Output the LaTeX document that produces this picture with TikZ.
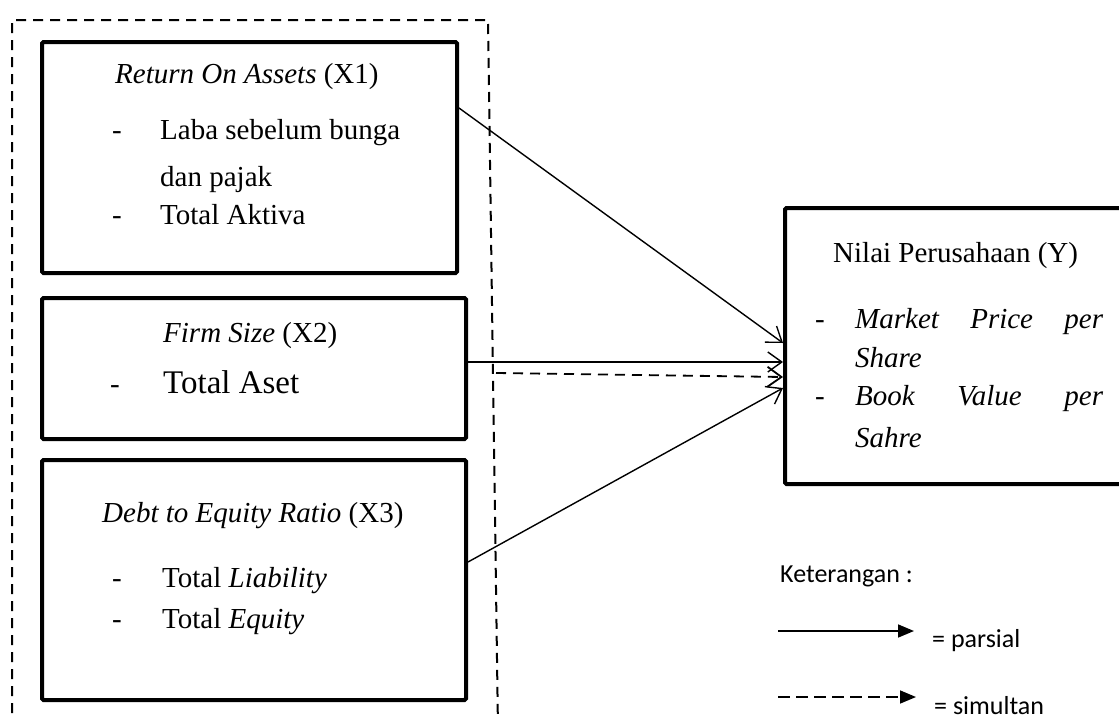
\documentclass[tikz,border=0pt]{standalone}
\usepackage{fontspec}
\setmainfont{Liberation Serif}
\newfontfamily\legendfont{Carlito}
\usetikzlibrary{arrows.meta}
\begin{document}
\begin{tikzpicture}[x=1pt,y=-1pt,
  box/.style={draw, line width=4pt, rectangle, rounded corners=1.5pt, inner sep=0pt},
  txt/.style={anchor=base west, inner sep=0pt, font=\fontsize{29}{34}\selectfont},
  bigtxt/.style={anchor=base west, inner sep=0pt, font=\fontsize{33}{38}\selectfont},
  leg/.style={anchor=base west, inner sep=0pt, font=\legendfont\fontsize{26}{30}\selectfont},
  link/.style={line width=1.4pt, -{Straight Barb[length=14pt,width=20pt]}},
  dlink/.style={line width=1.8pt, dash pattern=on 10pt off 7pt, -{Straight Barb[length=14pt,width=20pt]}},
  outerline/.style={line width=2pt, dash pattern=on 10pt off 7pt},
  legsolid/.style={line width=1.6pt, -{Triangle[length=16pt,width=13pt]}},
  legdash/.style={line width=1.6pt, dash pattern=on 12pt off 6pt, -{Triangle[length=16pt,width=13pt]}}
]
\useasboundingbox (0,0) rectangle (1119,720);

% outer dashed frame
\draw[outerline] (12,730) -- (12,20) -- (488,20) -- (498,730);

% boxes
\node[box, minimum width=415pt, minimum height=231pt] (x1) at (249.5,157.5) {};
\node[box, minimum width=424pt, minimum height=141pt] (x2) at (254,368.5) {};
\node[box, minimum width=424pt, minimum height=240pt] (x3) at (254,580) {};
\node[box, minimum width=350pt, minimum height=276pt] (yb) at (960,346) {};

% X1 texts
\node[txt] (t1) at (115,83) {\textit{Return On Assets} (X1)};
\node[txt] (d1a) at (112,139) {-};
\node[txt] (t1a) at (160,139) {Laba sebelum bunga};
\node[txt] (t1b) at (160,186) {dan pajak};
\node[txt] (d1c) at (112,224) {-};
\node[txt] (t1c) at (160,224) {Total Aktiva};

% X2 texts
\node[txt] (t2) at (163,342) {\textit{Firm Size} (X2)};
\node[txt] (d2a) at (110,393) {-};
\node[bigtxt] (t2a) at (163,393) {Total Aset};

% X3 texts
\node[txt] (t3) at (102,522) {\textit{Debt to Equity Ratio} (X3)};
\node[txt] (d3a) at (112,587) {-};
\node[txt] (t3a) at (162,587) {Total \textit{Liability}};
\node[txt] (d3b) at (112,628) {-};
\node[txt] (t3b) at (162,628) {Total \textit{Equity}};

% Y texts
\node[txt] (ty) at (833,262) {Nilai Perusahaan (Y)};
\node[txt] (dya) at (815,328) {-};
\node[txt] (tya) at (855,328) {\makebox[248pt][s]{\textit{Market Price per}}};
\node[txt] (tyb) at (855,367) {\textit{Share}};
\node[txt] (dyc) at (815,405) {-};
\node[txt] (tyc) at (855,405) {\makebox[248pt][s]{\textit{Book Value per}}};
\node[txt] (tyd) at (855,447) {\textit{Sahre}};

% connectors
\draw[link] ([yshift=49.5pt]x1.east) -- ([yshift=3pt]yb.west);
\draw[link] ([yshift=6.5pt]x2.east) -- ([yshift=-16pt]yb.west);
\coordinate (dstart) at (496,373);
\draw[dlink] (dstart) -- ([yshift=-31pt]yb.west);
\draw[link] ([yshift=18pt]x3.east) -- ([yshift=-42pt]yb.west);

% legend
\node[leg] (ket) at (780,582) {Keterangan :};
\coordinate (l1a) at (778,631);
\coordinate (l1b) at (914,631);
\draw[legsolid] (l1a) -- (l1b);
\node[leg] (lp) at (932,647) {= parsial};
\coordinate (l2a) at (778,697);
\coordinate (l2b) at (916,697);
\draw[legdash] (l2a) -- (l2b);
\node[leg] (ls) at (934,714) {= simultan};
\end{tikzpicture}
\end{document}
